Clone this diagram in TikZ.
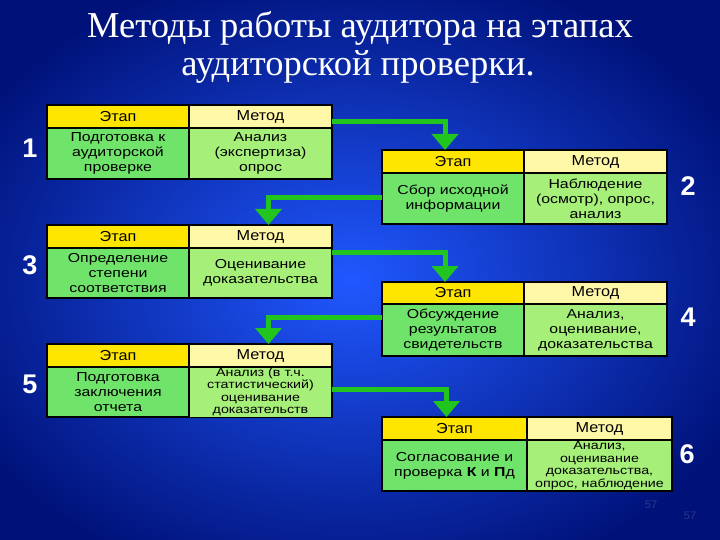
\documentclass[tikz,border=0pt]{standalone}
\usepackage{fontspec}
\setmainfont{Liberation Serif}
\newfontfamily\tabfont[FakeStretch=1.22]{Liberation Sans}
\newfontfamily\hdrfont[FakeStretch=1.12]{Liberation Sans}
\newfontfamily\numfont{Liberation Sans}
\usetikzlibrary{arrows.meta}
\definecolor{bgin}{HTML}{2058FF}
\definecolor{bgout}{HTML}{00127A}
\definecolor{hdrE}{HTML}{FFE600}
\definecolor{hdrM}{HTML}{FFF7A8}
\definecolor{bodyE}{HTML}{70E46A}
\definecolor{bodyM}{HTML}{A6F07A}
\definecolor{flowgreen}{HTML}{22C41E}
\definecolor{pagenum}{HTML}{2A3A86}
\tikzset{
  cell/.style={draw=black, line width=1.2pt, inner sep=1pt, outer sep=0pt,
    anchor=north west, align=center, text=black, font=\tabfont\fontsize{13}{15}\selectfont},
  hcell/.style={cell, font=\hdrfont\fontsize{14.5}{16}\selectfont},
  ehdr/.style={hcell, fill=hdrE},
  mhdr/.style={hcell, fill=hdrM},
  ebody/.style={cell, fill=bodyE},
  mbody/.style={cell, fill=bodyM},
  small/.style={font=\tabfont\fontsize{11.7}{12.5}\selectfont},
  num/.style={text=white, font=\numfont\bfseries\fontsize{27}{30}\selectfont},
  ttl/.style={text=white, anchor=base, font=\fontsize{36.5}{40}\selectfont},
  pnum/.style={text=pagenum, font=\numfont\fontsize{11}{12}\selectfont},
  flow/.style={draw=flowgreen, line width=5pt, line join=miter,
    -{Triangle[width=26pt,length=16pt]}}
}
\begin{document}
\begin{tikzpicture}[x=1pt,y=-1pt]
\useasboundingbox (0,0) rectangle (720,540);
\shade[inner color=bgin, outer color=bgout] (-80,-40) rectangle (780,600);

% title
\node[ttl] (title1) at (360,38) {Методы работы аудитора на этапах};
\node[ttl] (title2) at (358,76) {аудиторской проверки.};

% table 1
\node[ehdr, minimum width=142pt, minimum height=23pt] (t1eh) at (47,105) {Этап};
\node[mhdr, minimum width=143pt, minimum height=23pt] (t1mh) at (189,105) {Метод};
\node[ebody, minimum width=142pt, minimum height=51pt] (t1eb) at (47,128) {Подготовка к\\аудиторской\\проверке};
\node[mbody, minimum width=143pt, minimum height=51pt] (t1mb) at (189,128) {Анализ\\(экспертиза)\\опрос};

% table 3
\node[ehdr, minimum width=142pt, minimum height=23pt] (t3eh) at (47,225) {Этап};
\node[mhdr, minimum width=143pt, minimum height=23pt] (t3mh) at (189,225) {Метод};
\node[ebody, minimum width=142pt, minimum height=50pt] (t3eb) at (47,248) {Определение\\степени\\соответствия};
\node[mbody, minimum width=143pt, minimum height=50pt] (t3mb) at (189,248) {Оценивание\\доказательства};

% table 5
\node[ehdr, minimum width=142pt, minimum height=23pt] (t5eh) at (47,344) {Этап};
\node[mhdr, minimum width=143pt, minimum height=23pt] (t5mh) at (189,344) {Метод};
\node[ebody, minimum width=142pt, minimum height=50pt] (t5eb) at (47,367) {Подготовка\\заключения\\отчета};
\node[mbody, small, minimum width=143pt, minimum height=50pt] (t5mb) at (189,367) {Анализ (в т.ч.\\статистический)\\оценивание\\доказательств};

% table 2
\node[ehdr, minimum width=142pt, minimum height=23pt] (t2eh) at (382,150) {Этап};
\node[mhdr, minimum width=143pt, minimum height=23pt] (t2mh) at (524,150) {Метод};
\node[ebody, minimum width=142pt, minimum height=51pt] (t2eb) at (382,173) {Сбор исходной\\информации};
\node[mbody, minimum width=143pt, minimum height=51pt] (t2mb) at (524,173) {Наблюдение\\(осмотр), опрос,\\анализ};

% table 4
\node[ehdr, minimum width=142pt, minimum height=22pt] (t4eh) at (382,282) {Этап};
\node[mhdr, minimum width=143pt, minimum height=22pt] (t4mh) at (524,282) {Метод};
\node[ebody, minimum width=142pt, minimum height=52pt] (t4eb) at (382,304) {Обсуждение\\результатов\\свидетельств};
\node[mbody, minimum width=143pt, minimum height=52pt] (t4mb) at (524,304) {Анализ,\\оценивание,\\доказательства};

% table 6
\node[ehdr, minimum width=145pt, minimum height=23pt] (t6eh) at (382,417) {Этап};
\node[mhdr, minimum width=145pt, minimum height=23pt] (t6mh) at (527,417) {Метод};
\node[ebody, minimum width=145pt, minimum height=51pt] (t6eb) at (382,440) {Согласование и\\проверка \textbf{К} и \textbf{П}д};
\node[mbody, small, minimum width=145pt, minimum height=51pt] (t6mb) at (527,440) {Анализ,\\оценивание\\доказательства,\\опрос, наблюдение};

% numbers
\node[num] (n1) at (30,148) {1};
\node[num] (n2) at (688,186) {2};
\node[num] (n3) at (30,265) {3};
\node[num] (n4) at (688,317) {4};
\node[num] (n5) at (30,384) {5};
\node[num] (n6) at (687,454) {6};

% page numbers
\node[pnum] (p1) at (651,505) {57};
\node[pnum] (p2) at (690,516) {57};

% flow arrows
\draw[flow] ([yshift=6pt]t1mh.south east) -| ([xshift=-8pt]t2eh.north);
\draw[flow] ([yshift=1pt]t2eb.west) -| ([xshift=8pt]t3mh.north);
\draw[flow] ([yshift=-4pt]t3mh.south east) -| ([xshift=-8pt]t4eh.north);
\draw[flow] ([yshift=13pt]t4eb.west) -| ([xshift=8pt]t5mh.north);
\draw[flow] ([yshift=3pt]t5mb.east) -| ([xshift=-8pt]t6eh.north);
\end{tikzpicture}
\end{document}
